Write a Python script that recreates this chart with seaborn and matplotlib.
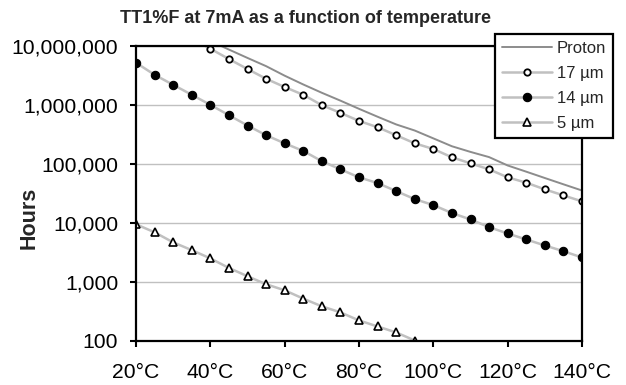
import matplotlib
matplotlib.use("Agg")
import matplotlib.pyplot as plt
import seaborn as sns
import pandas as pd
import numpy as np

# ---- data ----
temps_all = [20, 25, 30, 35, 40, 45, 50, 55, 60, 65, 70, 75, 80, 85, 90, 95,
             100, 105, 110, 115, 120, 125, 130, 135, 140]

proton_t = temps_all[3:]
proton = [16500000, 12000000, 8600000, 6200000, 4500000, 3100000, 2200000,
          1590000, 1170000, 850000, 624000, 462000, 364000, 268000, 197000,
          158000, 129000, 93000, 73000, 57000, 44600, 35000]

um17_t = temps_all[3:]
um17 = [13000000, 8890000, 5940000, 4020000, 2750000, 1990000, 1470000,
        980000, 726000, 530000, 414000, 303000, 221000, 177000, 128000,
        101000, 80000, 58500, 47500, 36600, 28900, 22900]

um14_t = temps_all
um14 = [5140000, 3210000, 2170000, 1470000, 993000, 662000, 443000, 303000,
        221000, 164000, 110000, 80000, 58500, 46800, 34200, 25000, 19800,
        14500, 11300, 8360, 6530, 5170, 4090, 3270, 2560]

um5_t = temps_all[:17]
um5 = [9360, 6840, 4620, 3410, 2470, 1700, 1230, 900, 711, 513, 380, 300,
       219, 173, 137, 100, 79]

series_names = ["Proton", "17 µm", "14 µm", "5 µm"]
title = "TT1%F at 7mA as a function of temperature"
y_label = "Hours"
y_ticks = [100, 1000, 10000, 100000, 1000000, 10000000]
y_tick_labels = ["100", "1,000", "10,000", "100,000", "1,000,000", "10,000,000"]
x_ticks = [20, 40, 60, 80, 100, 120, 140]
x_tick_labels = ["20°C", "40°C", "60°C", "80°C", "100°C", "120°C", "140°C"]

# ---- style ----
sns.set_style("white")
plt.rcParams["font.family"] = ["Liberation Sans", "DejaVu Sans"]

W, H = 626, 385
L, R, T, B = 136, 582, 45.7, 340.5
fig = plt.figure(figsize=(W / 100, H / 100), dpi=100)
ax = fig.add_axes([L / W, 1 - B / H, (R - L) / W, (B - T) / H])

light = "#c0c0c0"
dark = "#8c8c8c"

sns.lineplot(x=proton_t, y=proton, ax=ax, color=dark, lw=1.4, label=series_names[0],
             sort=False)
sns.lineplot(x=um17_t, y=um17, ax=ax, color=light, lw=1.8, label=series_names[1],
             marker="o", markersize=4.6, markerfacecolor="white",
             markeredgecolor="black", markeredgewidth=1.3, sort=False)
sns.lineplot(x=um14_t, y=um14, ax=ax, color=light, lw=1.8, label=series_names[2],
             marker="o", markersize=6.0, markerfacecolor="black",
             markeredgecolor="black", markeredgewidth=0.8, sort=False)
sns.lineplot(x=um5_t, y=um5, ax=ax, color=light, lw=1.8, label=series_names[3],
             marker="^", markersize=6.2, markerfacecolor="white",
             markeredgecolor="black", markeredgewidth=1.2, sort=False)

ax.set_yscale("log")
ax.set_xlim(20, 140)
ax.set_ylim(100, 10000000)
ax.set_yticks(y_ticks)
ax.set_yticklabels(y_tick_labels)
ax.yaxis.set_minor_locator(matplotlib.ticker.NullLocator())
ax.set_xticks(x_ticks)
ax.set_xticklabels(x_tick_labels)

ax.grid(axis="y", which="major", color=light, lw=1.0)
ax.grid(axis="x", visible=False)
for s in ax.spines.values():
    s.set_color("black")
    s.set_linewidth(1.6)
    s.set_visible(True)

ax.tick_params(axis="both", which="major", direction="out", length=4.5, width=1.5,
               color="black", labelsize=15.2, pad=8.2, labelcolor="black",
               left=True, bottom=True)
ax.tick_params(axis="x", pad=12)

ax.set_xlabel("")
ax.set_ylabel(y_label, fontsize=15.5, fontweight="bold", va="center")
ax.yaxis.set_label_coords((28.7 - L) / (R - L), (B - 218) / (B - T))

fig.text(305 / W, 1 - 18.5 / H, title, ha="center", va="center",
         fontsize=13, fontweight="bold")

leg = ax.legend(loc="upper left", bbox_to_anchor=(495 / W, 1 - 34 / H),
                bbox_transform=fig.transFigure, frameon=True, fancybox=False,
                edgecolor="black", framealpha=1, fontsize=12,
                handlelength=3.0, handletextpad=0.3, labelspacing=0.61,
                borderpad=0.4, borderaxespad=0)
leg.get_frame().set_linewidth(1.6)

fig.savefig("out.png", dpi=100)
